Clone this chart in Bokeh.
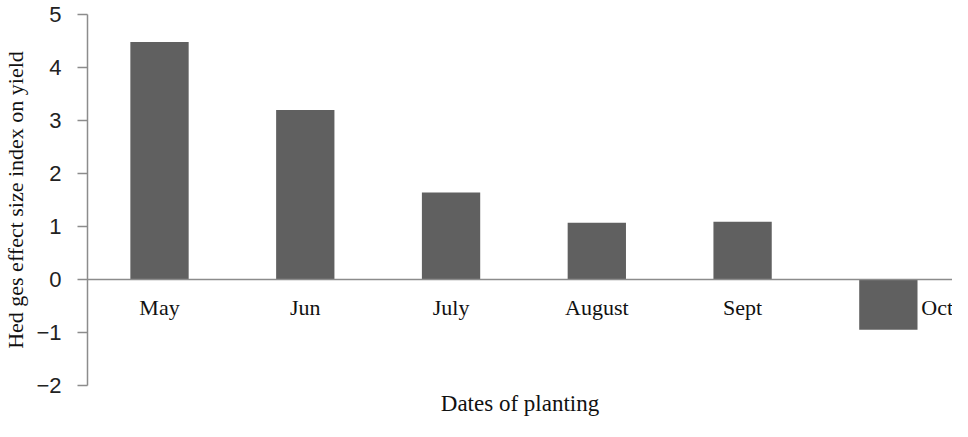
from bokeh.plotting import figure
from bokeh.models import Span, ColumnDataSource, Range1d, Title
from bokeh.core.properties import value
from bokeh.embed import file_html
from bokeh.resources import INLINE

months = ["May", "Jun", "July", "August", "Sept", "Oct"]
hedges_g = [4.48, 3.2, 1.64, 1.07, 1.09, -0.95]
y_ticks = [-2, -1, 0, 1, 2, 3, 4, 5]

BAR_COLOR = "#606060"
AXIS_COLOR = "#8c8c8c"
SERIF = "Liberation Serif"
TXT = "#111111"

pos = list(range(len(months)))  # category slots

p = figure(width=952, height=421, output_backend="svg", toolbar_location=None,
           x_range=Range1d(-0.494, 5.44),
           y_range=Range1d(-2, 5),
           min_border_left=81, min_border_right=0, min_border_top=14, min_border_bottom=36)

src = ColumnDataSource(dict(pos=pos, month=months, val=hedges_g))
p.vbar(x="pos", top="val", bottom=0, width=0.4, source=src,
       fill_color=BAR_COLOR, line_color=None)

# category labels just below the zero line; negative bar gets its label to the right
lab_x_off = [33 if v < 0 else 0 for v in hedges_g]
lab_align = ["left" if v < 0 else "center" for v in hedges_g]
lsrc = ColumnDataSource(dict(pos=pos, y=[0] * len(months), text=months,
                             xo=lab_x_off, al=lab_align))
p.text(x="pos", y="y", text="text", x_offset="xo", y_offset=28, text_align="al",
       text_baseline="middle", source=lsrc,
       text_font=value(SERIF), text_font_size=value("22px"), text_color=TXT)

p.add_layout(Span(location=0, dimension="width", line_color=AXIS_COLOR, line_width=1.5))

p.grid.visible = False
p.outline_line_color = None
p.background_fill_color = "white"
p.border_fill_color = "white"

ya = p.yaxis[0]
ya.ticker = y_ticks
ya.axis_line_color = AXIS_COLOR
ya.axis_line_width = 1.5
ya.major_tick_line_color = AXIS_COLOR
ya.major_tick_line_width = 1.5
ya.major_tick_out = 10
ya.major_tick_in = 0
ya.minor_tick_line_color = None
ya.major_label_standoff = 16
ya.major_label_text_font = "Liberation Sans"
ya.major_label_text_font_size = "22px"
ya.major_label_text_color = "#222222"
ya.axis_label = "Hed ges effect size index on yield"
ya.axis_label_text_font = SERIF
ya.axis_label_text_font_size = "22px"
ya.axis_label_text_font_style = "normal"
ya.axis_label_text_color = TXT
ya.axis_label_standoff = 5

p.xaxis.visible = False
p.add_layout(Title(text="Dates of planting", align="center", standoff=6,
                   text_font=SERIF, text_font_size="23px", text_font_style="normal",
                   text_color=TXT), "below")

open("out.html", "w").write(file_html(p, INLINE))
